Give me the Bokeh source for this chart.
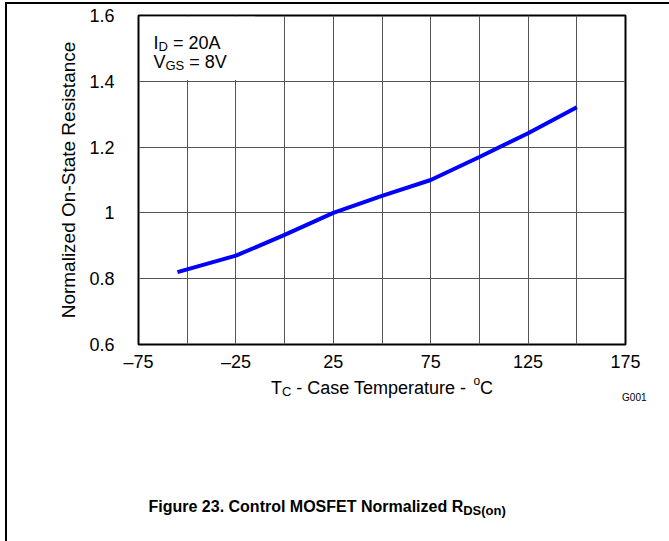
import math
from bokeh.plotting import figure
from bokeh.models import FixedTicker, Label, BoxAnnotation, Range1d, InlineStyleSheet
from bokeh.embed import file_html
from bokeh.resources import INLINE

# ---- data ----
temp_c = [-55, -25, 0, 25, 50, 75, 100, 125, 150]
rds_norm = [0.82, 0.87, 0.933, 1.0, 1.052, 1.10, 1.17, 1.242, 1.321]

x_tick_values = [-75, -25, 25, 75, 125, 175]
x_tick_labels = ["\u201375", "\u201325", "25", "75", "125", "175"]
x_grid_values = [-50, -25, 0, 25, 50, 75, 100, 125, 150]
y_tick_values = [0.6, 0.8, 1.0, 1.2, 1.4, 1.6]
y_tick_labels = ["0.6", "0.8", "1", "1.2", "1.4", "1.6"]

FONT = "Liberation Sans"

# Arial / Liberation Sans advance widths (per 1000 em)
REG = {" ": 278, "-": 333, ".": 278, "(": 333, ")": 333, "=": 584,
       "A": 667, "C": 722, "D": 722, "E": 667, "F": 611, "G": 778, "I": 278,
       "M": 833, "N": 722, "O": 778, "R": 722, "S": 667, "T": 611, "V": 667,
       "a": 556, "c": 500, "d": 556, "e": 556, "g": 556, "i": 222, "l": 222,
       "m": 833, "n": 556, "o": 556, "p": 556, "r": 333, "s": 500, "t": 278,
       "u": 556, "z": 500}
BOLD = {" ": 278, "-": 333, ".": 278, "(": 333, ")": 333,
        "C": 722, "D": 722, "E": 667, "F": 611, "M": 833, "N": 722, "O": 778,
        "R": 722, "S": 667, "T": 611, "a": 556, "d": 611, "e": 556, "g": 611,
        "i": 278, "l": 278, "m": 889, "n": 611, "o": 611, "r": 389, "t": 333,
        "u": 611, "z": 500}


def text_width(s, size, bold=False):
    table = BOLD if bold else REG
    return sum(table.get(ch, 556) for ch in s) * size / 1000.0


W, H = 669, 541
FL, FR, FT, FB = 138, 625, 15, 344

# page frame (top and left edges) drawn as a CSS overlay that does not affect layout
frame_css = InlineStyleSheet(css="""
:host { position: relative; }
:host::after {
  content: ""; position: absolute; left: 5px; top: 2px; right: 0; bottom: 0;
  border-top: 2px solid black; border-left: 2px solid black;
  pointer-events: none; z-index: 100;
}
""")

p = figure(width=W, height=H, x_range=Range1d(-75, 175), y_range=Range1d(0.6, 1.6),
           output_backend="svg", toolbar_location=None,
           min_border_left=FL, min_border_right=W - FR,
           min_border_top=FT, min_border_bottom=H - FB,
           stylesheets=[frame_css])
p.background_fill_color = "white"
p.border_fill_color = "white"
p.outline_line_color = "black"
p.outline_line_width = 2

p.xaxis.ticker = FixedTicker(ticks=x_tick_values)
p.xaxis.major_label_overrides = dict(zip(x_tick_values, x_tick_labels))
p.yaxis.ticker = FixedTicker(ticks=y_tick_values)
p.yaxis.major_label_overrides = dict(zip(y_tick_values, y_tick_labels))
for ax in (p.xaxis, p.yaxis):
    ax.axis_line_color = None
    ax.major_tick_line_color = None
    ax.minor_tick_line_color = None
    ax.major_tick_out = 0
    ax.major_tick_in = 0
    ax.major_label_text_font = FONT
    ax.major_label_text_font_size = "18px"
    ax.major_label_text_color = "black"
p.xaxis.major_label_standoff = 7
p.yaxis.major_label_standoff = 24

p.xgrid.ticker = FixedTicker(ticks=x_grid_values)
p.ygrid.ticker = FixedTicker(ticks=y_tick_values)
p.grid.grid_line_color = "#555555"
p.grid.grid_line_width = 1
p.grid.grid_line_alpha = 1.0

# white box behind the condition text (kept inside the frame outline)
p.add_layout(BoxAnnotation(left=-74.2, right=-15, bottom=1.404, top=1.596,
                           fill_color="white", fill_alpha=1.0, line_color=None,
                           level="underlay"))

p.line(temp_c, rds_norm, line_color="#0000ff", line_width=4)


def add_run(pieces, x, y, x0, y0, bold=False, place="center"):
    """pieces: (text, size_px, shift_px) ; shift positive = down."""
    off = x0
    for txt, size, shift in pieces:
        stripped = txt.lstrip(" ")
        lead = text_width(txt[: len(txt) - len(stripped)], size, bold)
        lab = Label(x=x, y=y, x_offset=off + lead, y_offset=y0 - shift, text=stripped,
                    text_font=FONT, text_font_size=f"{size}px",
                    text_font_style="bold" if bold else "normal",
                    text_color="black", text_align="left",
                    text_baseline="alphabetic")
        if place == "center":
            p.add_layout(lab)
        else:
            p.add_layout(lab, place)
        off += text_width(txt, size, bold)
    return off - x0


# condition text (inside the frame)
add_run([("I", 18, 0), ("D", 13, 4), (" = 20A", 18, 0)], -75, 1.6, 15, -27)
add_run([("V", 18, 0), ("GS", 13, 4), (" = 8V", 18, 0)], -75, 1.6, 15, -46)

# x-axis title (centred under the frame)
xl = [("T", 18, 0), ("C", 13, 4), (" - Case Temperature - ", 18, 0), ("o", 12, -7), ("C", 18, 0)]
wx = sum(text_width(t, s) for t, s, _ in xl)
add_run(xl, 50, 0.6, -wx / 2, -43, place="below")

# y-axis title
p.add_layout(Label(x=-75, y=1.1, x_offset=-70, text="Normalized On-State Resistance",
                   angle=math.pi / 2, text_font=FONT, text_font_size="19px",
                   text_align="center", text_baseline="middle", text_color="black"),
             "left")

# figure id
p.add_layout(Label(x=175, y=0.6, x_offset=21, y_offset=-53, text="G001",
                   text_font=FONT, text_font_size="10px", text_align="right",
                   text_baseline="alphabetic", text_color="black"), "below")

# caption
add_run([("Figure 23. Control MOSFET Normalized R", 16, 0), ("DS(on)", 13, 4)],
        -75, 0.6, 10, -162, bold=True, place="below")

open("out.html", "w").write(file_html(p, INLINE))
